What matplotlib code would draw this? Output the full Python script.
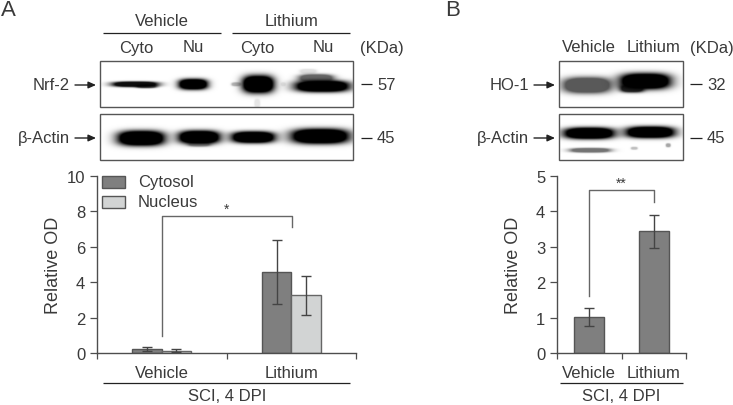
import numpy as np
import matplotlib
matplotlib.use("Agg")
import matplotlib.pyplot as plt
from matplotlib.patches import Rectangle

plt.rcParams['font.family'] = ['Liberation Sans', 'DejaVu Sans']

W, H = 733, 406
TXT = '#3a3a3a'
LINE = '#4d4d4d'
DARK = '#7f7f7f'
LIGHT = '#d2d4d4'
FS = 12

groups_a = ['Vehicle', 'Lithium']
cytosol_a = [0.22, 4.57]
cytosol_err_a = [0.13, 1.80]
nucleus_a = [0.14, 3.25]
nucleus_err_a = [0.09, 1.10]
ticks_a = [0, 2, 4, 6, 8, 10]

groups_b = ['Vehicle', 'Lithium']
values_b = [1.02, 3.44]
err_b = [0.26, 0.47]
ticks_b = [0, 1, 2, 3, 4, 5]

# blot bands: centre x, centre y, width, height, darkness (figure pixels)
nrf2_bands = [(135, 85, 50, 6, 0.95), (146, 87, 22, 4, 0.7), (193, 85, 32, 12, 1.0),
              (258, 85, 35, 20, 1.0), (236, 85, 10, 4, 0.3), (283, 85, 5, 4, 0.08),
              (322, 87, 60, 13, 1.0), (316, 79, 38, 9, 0.6), (308, 72, 18, 5, 0.12),
              (257, 104, 6, 9, 0.1)]
actin_a_bands = [(141, 139, 52, 17, 1.0), (199, 138, 46, 15, 1.0), (253, 138, 48, 13, 1.0),
                 (320, 137, 64, 17, 1.0), (199, 145, 24, 5, 0.4)]
ho1_bands = [(587, 86, 54, 18, 0.65), (645, 82, 56, 18, 1.0), (632, 89, 26, 9, 0.85)]
actin_b_bands = [(589, 134, 56, 13, 1.0), (650, 133, 54, 13, 1.0),
                 (590, 151, 44, 5, 0.55), (634, 149, 7, 3, 0.25), (668, 146, 5, 4, 0.35)]


def draw_blot(ov, x0, y0, x1, y1, bands):
    xs, ys = np.meshgrid(np.arange(x0, x1, 0.5), np.arange(y0, y1, 0.5))
    light = np.ones_like(xs, dtype=float)
    for cx, cy, w, h, d in bands:
        r = np.abs((xs - cx) / (w * 0.56)) ** 3 + np.abs((ys - cy) / (h * 0.56)) ** 2.6
        light *= 1 - d * np.clip(2.2 * np.exp(-r * 2.2), 0, 1)
    ov.imshow(light, cmap='gray', vmin=0, vmax=1, extent=(x0, x1, y1, y0),
              aspect='auto', interpolation='bilinear', zorder=1)
    ov.add_patch(Rectangle((x0, y0), x1 - x0, y1 - y0, fill=False, ec='#555555', lw=1, zorder=2))


def label(ov, x, y, s, ha='center', size=FS, **kw):
    ov.text(x, y, s, ha=ha, va='center', fontsize=size, color=TXT, **kw)


def hline(ov, x0, x1, y, color='#222222', lw=0.9):
    ov.plot([x0, x1], [y, y], color=color, lw=lw, solid_capstyle='butt')


def arrow(ov, x0, x1, y):
    ov.annotate('', xy=(x1, y), xytext=(x0, y),
                arrowprops=dict(arrowstyle='-|>,head_length=0.45,head_width=0.2', color='#222222',
                                lw=1, shrinkA=0, shrinkB=0))


def setup_axes(fig, left, right, ymax, ticks, groups):
    ax = fig.add_axes([left / W, (H - 354) / H, (right - left) / W, 177 / H])
    ax.set_xlim(-0.5, 1.5)
    ax.set_ylim(0, ymax)
    ax.patch.set_alpha(0)
    for s in ['top', 'right']:
        ax.spines[s].set_visible(False)
    for s in ['left', 'bottom']:
        ax.spines[s].set_color(LINE)
        ax.spines[s].set_linewidth(1)
    ax.set_yticks(ticks)
    ax.set_xticks([-0.5, 0.5, 1.5])
    ax.set_xticklabels([])
    ax.set_xticks([0, 1], minor=True)
    ax.set_xticklabels(groups, minor=True)
    ax.tick_params(axis='x', which='minor', length=0, pad=9, labelsize=FS, labelcolor=TXT)
    ax.tick_params(axis='x', which='major', length=4.5, width=0.9, color=LINE)
    ax.tick_params(axis='y', length=5, width=0.9, color=LINE, labelsize=FS, labelcolor=TXT, pad=3.5)
    ax.set_ylabel('Relative OD', fontsize=13, color=TXT)
    return ax


fig = plt.figure(figsize=(W / 100, H / 100), dpi=100, facecolor='white')

# panel A bars
ax_a = setup_axes(fig, 97, 356, 10, ticks_a, groups_a)
ax_a.yaxis.set_label_coords((62 - 97) / 259, 0.5)
pos = np.arange(len(groups_a))
bar_w = 0.227
err_kw = dict(ecolor='#444444', elinewidth=1, capsize=3.5, capthick=1)
ax_a.bar(pos - bar_w / 2, cytosol_a, bar_w, yerr=cytosol_err_a, color=DARK, edgecolor='#555555',
         linewidth=1, error_kw=err_kw, label='Cytosol')
ax_a.bar(pos + bar_w / 2, nucleus_a, bar_w, yerr=nucleus_err_a, color=LIGHT, edgecolor='#666666',
         linewidth=1, error_kw=err_kw, label='Nucleus')

# panel B bars
ax_b = setup_axes(fig, 557, 686, 5, ticks_b, groups_b)
ax_b.yaxis.set_label_coords((522 - 557) / 129, 0.5)
ax_b.bar(np.arange(len(groups_b)), values_b, 0.46, yerr=err_b, color=DARK, edgecolor='#555555',
         linewidth=1, error_kw=err_kw)

# everything else in figure pixels
ov = fig.add_axes([0, 0, 1, 1], zorder=5)
ov.patch.set_alpha(0)
ov.axis('off')

draw_blot(ov, 100, 62, 353, 108, nrf2_bands)
draw_blot(ov, 100, 115, 353, 161, actin_a_bands)
draw_blot(ov, 559, 62, 683, 108, ho1_bands)
draw_blot(ov, 559, 115, 683, 161, actin_b_bands)

label(ov, 8, 11, 'A', size=16)
label(ov, 453, 10, 'B', size=16)

label(ov, 162, 22, 'Vehicle')
label(ov, 292, 22, 'Lithium')
hline(ov, 103, 221, 34)
hline(ov, 232, 350, 34)
for x, s in [(136, 'Cyto'), (193, 'Nu'), (257, 'Cyto'), (323, 'Nu')]:
    label(ov, x, 48, s)
label(ov, 382, 48, '(KDa)')
label(ov, 70, 86, 'Nrf-2', ha='right')
label(ov, 70, 139, 'β-Actin', ha='right')
arrow(ov, 75, 96, 86)
arrow(ov, 75, 96, 139)
hline(ov, 361, 372, 85)
hline(ov, 361, 372, 139)
label(ov, 377, 86, '57', ha='left')
label(ov, 377, 139, '45', ha='left')

label(ov, 589, 48, 'Vehicle')
label(ov, 654, 48, 'Lithium')
label(ov, 712, 48, '(KDa)')
label(ov, 529, 86, 'HO-1', ha='right')
label(ov, 529, 139, 'β-Actin', ha='right')
arrow(ov, 534, 555, 86)
arrow(ov, 534, 555, 139)
hline(ov, 690, 702, 85)
hline(ov, 690, 702, 139)
label(ov, 707, 86, '32', ha='left')
label(ov, 707, 139, '45', ha='left')

# legend of panel A
for y, c, s in [(177, DARK, 'Cytosol'), (197, LIGHT, 'Nucleus')]:
    ov.add_patch(Rectangle((102, y), 23, 12, fc=c, ec='#555555', lw=1))
    label(ov, 138, y + 6, s, ha='left')

# significance brackets
ov.plot([162, 162, 292, 292], [337, 217, 217, 228], color='#666666', lw=1)
label(ov, 227, 210, '*', size=10)
ov.plot([589, 589, 654, 654], [297, 191, 191, 203], color='#666666', lw=1)
label(ov, 621, 184, '**', size=10)

# bottom rules
hline(ov, 103, 350, 384)
label(ov, 227, 397, 'SCI, 4 DPI')
hline(ov, 560, 683, 384)
label(ov, 621, 397, 'SCI, 4 DPI')

ov.set_xlim(0, W)
ov.set_ylim(H, 0)

fig.savefig('out.png', dpi=100)
